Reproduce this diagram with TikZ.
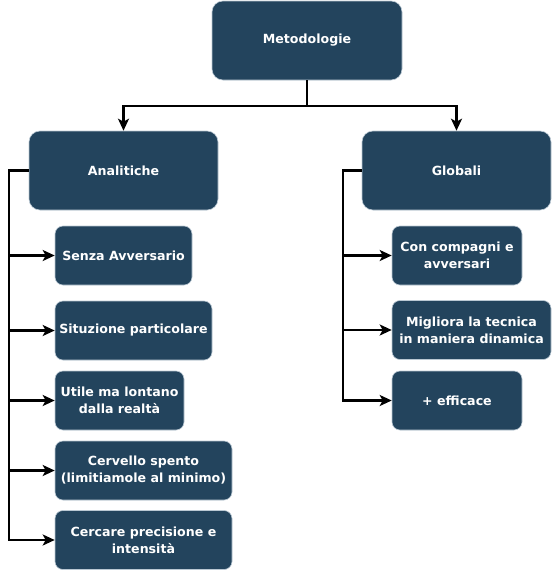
\documentclass[tikz,border=0pt]{standalone}
\usepackage{fontspec}
\setmainfont{DejaVu Sans}
\usepackage{tikz}
\usetikzlibrary{arrows.meta}
\definecolor{boxBlue}{HTML}{23445D}
\definecolor{boxEdge}{HTML}{BAC8D3}
\tikzset{
    methodBox/.style={
        rectangle, rounded corners=11pt, fill=boxBlue, draw=boxEdge, line width=0.6pt,
        text=white, align=center, inner sep=0pt, minimum height=79pt,
        font=\bfseries\fontsize{12.6}{17}\selectfont
    }
}
\tikzset{
    subBox/.style={
        methodBox, rounded corners=8pt, minimum height=59pt
    }
}
\tikzset{
    arrowLine/.style={
        black, line width=2.2pt, -{Stealth[length=12pt,width=11pt,inset=3pt]}
    }
}

\begin{document}
\begin{tikzpicture}[x=1pt,y=-1pt]
        \useasboundingbox (0,0) rectangle (552,570);
        % top level
        \node[methodBox, minimum width=190pt] (meto) at (307,40.5) {Metodologie};
        \node[methodBox, minimum width=189pt] (anal) at (123.5,170.5) {Analitiche};
        \node[methodBox, minimum width=189pt] (glob) at (456.5,170.5) {Globali};
        % analitiche
        \node[subBox, minimum width=137pt] (senza) at (123.5,255.5) {Senza Avversario};
        \node[subBox, minimum width=157pt] (situz) at (133.5,330.5) {Situzione particolare};
        \node[subBox, minimum width=129pt] (utile) at (119.5,400.5) {Utile ma lontano\\dalla realtà};
        \node[subBox, minimum width=177pt] (cerv) at (143.5,470.5) {Cervello spento\\(limitiamole al minimo)};
        \node[subBox, minimum width=177pt] (cerc) at (143.5,540) {Cercare precisione e\\intensità};
        % globali
        \node[subBox, minimum width=130pt] (con) at (457,255.5) {Con compagni e\\avversari};
        \node[subBox, minimum width=159pt] (migl) at (471.5,330) {Migliora la tecnica\\in maniera dinamica};
        \node[subBox, minimum width=130pt] (eff) at (457,400.5) {+ efficace};
        % connectors
        \coordinate (split) at (307,106);
        \coordinate (analTrunk) at (9,170.5);
        \coordinate (globTrunk) at (343,170.5);
        \draw[arrowLine] (meto.south) -- (split) -| (anal.north);
        \draw[arrowLine] (meto.south) -- (split) -| (glob.north);
        \foreach \c in {senza,situz,utile,cerv,cerc}
            \draw[arrowLine] (anal.west) -- (analTrunk) |- (\c.west);
        \foreach \c in {con,migl,eff}
            \draw[arrowLine] (glob.west) -- (globTrunk) |- (\c.west);
\end{tikzpicture}
\end{document}
